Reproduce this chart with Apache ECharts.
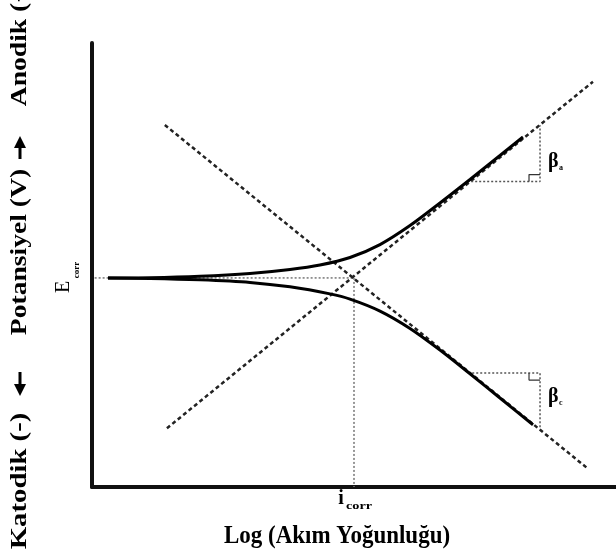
<!DOCTYPE html>
<html><head><meta charset="utf-8">
<script src="https://cdn.jsdelivr.net/npm/echarts@6/dist/echarts.min.js"></script>
<style>html,body{margin:0;padding:0;background:#fff}#c{width:616px;height:558px}</style>
</head><body><div id="c"></div>
<script>
// Log(current density) axis 0..10, potential axis (E - Ecorr) in arbitrary units
const anodicX   = [0.305, 1.107, 2.061, 3.015, 3.779, 4.351, 4.924, 5.496, 6.069, 6.641, 7.214, 7.786, 8.225];
const anodicY   = [0, 0.001, 0.007, 0.019, 0.036, 0.055, 0.087, 0.142, 0.223, 0.319, 0.419, 0.521, 0.600];
const cathodicX = [0.305, 1.107, 2.061, 3.015, 3.779, 4.542, 4.924, 5.496, 6.069, 6.641, 7.214, 7.786, 8.416];
const cathodicY = [0, -0.002, -0.008, -0.019, -0.038, -0.068, -0.090, -0.141, -0.215, -0.307, -0.408, -0.511, -0.625];
const tafelAX = [1.43, 9.56];
const tafelAY = [-0.64, 0.835];
const tafelCX = [1.39, 9.47];
const tafelCY = [0.651, -0.813];
const Ecorr = 0;
const icorr = 5.0;
const ecorrLineX = [0.05, icorr];
const icorrLineY = [Ecorr, -0.89];
const betaAX = [7.16, 8.55, 8.55];
const betaAY = [0.41, 0.41, 0.65];
const betaCX = [7.18, 8.55, 8.55];
const betaCY = [-0.405, -0.405, -0.645];
const sqAX = [8.34, 8.34, 8.55];
const sqAY = [0.41, 0.44, 0.44];
const sqCX = [8.34, 8.34, 8.55];
const sqCY = [-0.405, -0.435, -0.435];

const zip = (xs, ys) => xs.map((x, i) => [x, ys[i]]);
const serif = '"Liberation Serif","DejaVu Serif",serif';

function line(data, style, extra) {
  return Object.assign({
    type: 'line', data: data, showSymbol: false, symbol: 'none',
    lineStyle: style, silent: true, animation: false
  }, extra || {});
}
function vtext(txt, x, y, size, sx) {
  return {type: 'text', x: x, y: y, rotation: Math.PI / 2, scaleX: sx,
    style: {text: txt, font: 'bold ' + size + 'px ' + serif, fill: '#000', align: 'center', verticalAlign: 'middle'}};
}

const chart = echarts.init(document.getElementById('c'));
chart.setOption({
  animation: false,
  grid: {left: 92, right: 0, top: 43, bottom: 71},
  xAxis: {type: 'value', min: 0, max: 10,
    axisLine: {show: true, onZero: false, lineStyle: {color: '#111', width: 4}},
    axisTick: {show: false}, axisLabel: {show: false}, splitLine: {show: false}},
  yAxis: {type: 'value', min: -0.89, max: 1.0,
    axisLine: {show: true, onZero: false, lineStyle: {color: '#111', width: 4}},
    axisTick: {show: false}, axisLabel: {show: false}, splitLine: {show: false}},
  series: [
    line(zip(ecorrLineX, [Ecorr, Ecorr]), {color: '#777', width: 1.5, type: [2, 2]}),
    line([[icorr, icorrLineY[0]], [icorr, icorrLineY[1]]], {color: '#777', width: 1.5, type: [2, 2]}),
    line(zip(tafelAX, tafelAY), {color: '#222', width: 2.5, type: [4, 3]}),
    line(zip(tafelCX, tafelCY), {color: '#222', width: 2.5, type: [4, 3]}),
    line(zip(betaAX, betaAY), {color: '#555', width: 1.5, type: [2, 2]}),
    line(zip(betaCX, betaCY), {color: '#555', width: 1.5, type: [2, 2]}),
    line(zip(sqAX, sqAY), {color: '#333', width: 1.2}),
    line(zip(sqCX, sqCY), {color: '#333', width: 1.2}),
    line(zip(anodicX, anodicY), {color: '#000', width: 3}, {smooth: 0.3}),
    line(zip(cathodicX, cathodicY), {color: '#000', width: 3}, {smooth: 0.3})
  ],
  graphic: [
    vtext('Anodik (+)', 20, 42, 23, 1.2),
    vtext('Potansiyel (V)', 20, 252, 23, 1.2),
    vtext('Katodik (-)', 20, 481, 23, 1.25),
    {type: 'line', shape: {x1: 20, y1: 159, x2: 20, y2: 145}, style: {stroke: '#000', lineWidth: 3}},
    {type: 'polygon', shape: {points: [[20, 136], [14, 148], [26, 148]]}, style: {fill: '#000'}},
    {type: 'line', shape: {x1: 20, y1: 372, x2: 20, y2: 387}, style: {stroke: '#000', lineWidth: 3}},
    {type: 'polygon', shape: {points: [[20, 396], [14, 384], [26, 384]]}, style: {fill: '#000'}},
    {type: 'text', x: 64, y: 287, rotation: Math.PI / 2,
      style: {text: 'E', font: '20px ' + serif, fill: '#000', align: 'center', verticalAlign: 'middle'}},
    {type: 'text', x: 77, y: 270, rotation: Math.PI / 2,
      style: {text: 'corr', font: 'bold 9px ' + serif, fill: '#000', align: 'center', verticalAlign: 'middle'}},
    {type: 'text', x: 341, y: 499,
      style: {text: 'i', font: 'bold 20px ' + serif, fill: '#000', align: 'center', verticalAlign: 'middle'}},
    {type: 'text', x: 359, y: 506, scaleX: 1.3,
      style: {text: 'corr', font: 'bold 11px ' + serif, fill: '#000', align: 'center', verticalAlign: 'middle'}},
    {type: 'text', x: 548, y: 162,
      style: {text: 'β', font: 'bold 20px ' + serif, fill: '#000', align: 'left', verticalAlign: 'middle'}},
    {type: 'text', x: 559, y: 168,
      style: {text: 'a', font: 'bold 8px ' + serif, fill: '#000', align: 'left', verticalAlign: 'middle'}},
    {type: 'text', x: 548, y: 397,
      style: {text: 'β', font: 'bold 20px ' + serif, fill: '#000', align: 'left', verticalAlign: 'middle'}},
    {type: 'text', x: 559, y: 403,
      style: {text: 'c', font: 'bold 8px ' + serif, fill: '#000', align: 'left', verticalAlign: 'middle'}},
    {type: 'text', x: 337, y: 536, scaleY: 1.1,
      style: {text: 'Log (Akım Yoğunluğu)', font: 'bold 23px ' + serif, fill: '#000', align: 'center', verticalAlign: 'middle'}}
  ]
});
</script></body></html>
